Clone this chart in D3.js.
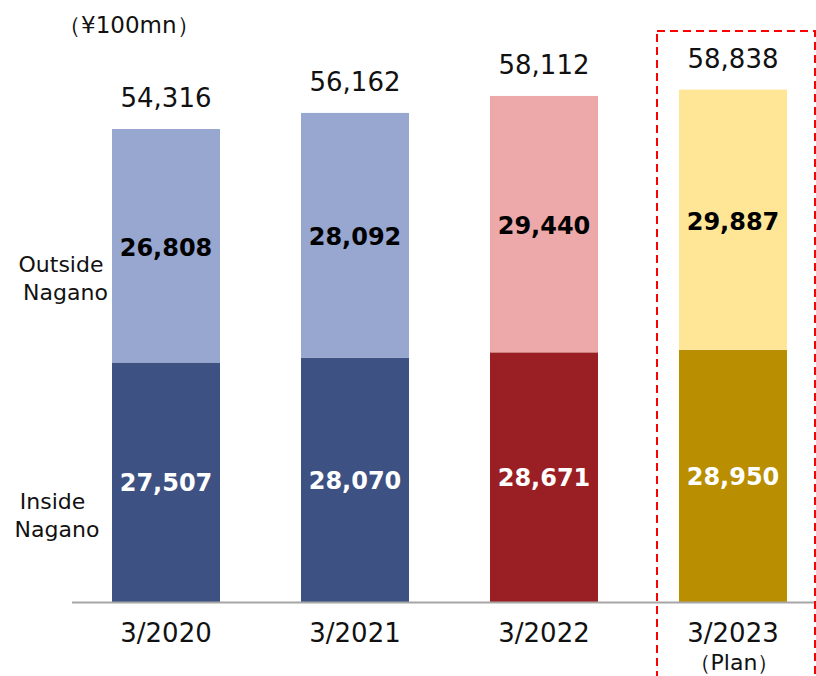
<!DOCTYPE html>
<html>
<head>
<meta charset="utf-8">
<script src="https://cdn.jsdelivr.net/npm/d3@7"></script>
<style>
  html, body { margin: 0; padding: 0; background: #fff; }
  svg { display: block; font-family: "DejaVu Sans", Verdana, sans-serif; }
</style>
</head>
<body>
<svg id="chart" width="816" height="676"></svg>
<script>
// Fiscal years (¥100mn)
const categories = ["3/2020", "3/2021", "3/2022", "3/2023"];
const subLabels = ["", "", "", "（Plan）"];
const insideNagano = [27507, 28070, 28671, 28950];
const outsideNagano = [26808, 28092, 29440, 29887];
const totals = [54316, 56162, 58112, 58838];

const insideColors = ["#3E5183", "#3E5183", "#9A1F24", "#B98E00"];
const outsideColors = ["#97A7D0", "#97A7D0", "#EDA8AA", "#FFE697"];
const insideTextColors = ["#fff", "#fff", "#fff", "#fff"];

const svg = d3.select("#chart");
const baseY = 602;

const x = d3.scaleBand()
  .domain(categories)
  .range([71.5, 827.5])
  .paddingInner(0.4286)
  .paddingOuter(0.2143);

const y = d3.scaleLinear()
  .domain([0, 54316])
  .range([baseY, 129]);

const fmt = d3.format(",");

// Stacked segments
const rows = categories.map((c, i) => ({
  c, i, inside: insideNagano[i], outside: outsideNagano[i], total: totals[i]
}));

const g = svg.append("g");

g.selectAll("rect.inside").data(rows).join("rect")
  .attr("class", "inside")
  .attr("x", d => x(d.c))
  .attr("width", x.bandwidth())
  .attr("y", d => y(d.inside))
  .attr("height", d => y(0) - y(d.inside))
  .attr("fill", d => insideColors[d.i]);

g.selectAll("rect.outside").data(rows).join("rect")
  .attr("class", "outside")
  .attr("x", d => x(d.c))
  .attr("width", x.bandwidth())
  .attr("y", d => y(d.inside + d.outside))
  .attr("height", d => y(d.inside) - y(d.inside + d.outside))
  .attr("fill", d => outsideColors[d.i]);

// Segment value labels
g.selectAll("text.inLbl").data(rows).join("text")
  .attr("class", "inLbl")
  .attr("x", d => x(d.c) + x.bandwidth() / 2)
  .attr("y", d => (y(0) + y(d.inside)) / 2 + 9)
  .attr("text-anchor", "middle")
  .attr("font-size", 24)
  .attr("font-weight", "bold")
  .attr("fill", d => insideTextColors[d.i])
  .text(d => fmt(d.inside));

g.selectAll("text.outLbl").data(rows).join("text")
  .attr("class", "outLbl")
  .attr("x", d => x(d.c) + x.bandwidth() / 2)
  .attr("y", d => (y(d.inside) + y(d.inside + d.outside)) / 2 + 10)
  .attr("text-anchor", "middle")
  .attr("font-size", 24)
  .attr("font-weight", "bold")
  .attr("fill", "#000")
  .text(d => fmt(d.outside));

// Totals above bars
g.selectAll("text.total").data(rows).join("text")
  .attr("class", "total")
  .attr("x", d => x(d.c) + x.bandwidth() / 2)
  .attr("y", d => y(d.total) - 22)
  .attr("text-anchor", "middle")
  .attr("font-size", 26)
  .attr("fill", "#111")
  .text(d => fmt(d.total));

// Baseline axis
const axis = svg.append("g")
  .attr("transform", `translate(0,${baseY})`)
  .call(d3.axisBottom(x).tickSize(0).tickPadding(0));
axis.select(".domain").remove();
axis.append("line")
  .attr("x1", 72).attr("x2", 816)
  .attr("y1", 0.5).attr("y2", 0.5)
  .attr("stroke", "#a6a6a6").attr("stroke-width", 2);
axis.selectAll(".tick text")
  .attr("font-family", "DejaVu Sans, sans-serif")
  .attr("font-size", 26)
  .attr("fill", "#111")
  .attr("dy", 0)
  .attr("y", 40);

// Sub-labels under categories
svg.selectAll("text.sub").data(categories).join("text")
  .attr("class", "sub")
  .attr("x", (d, i) => x(d) + x.bandwidth() / 2 + 1)
  .attr("y", 670)
  .attr("text-anchor", "middle")
  .attr("font-size", 22)
  .attr("fill", "#111")
  .text((d, i) => subLabels[i]);

// Unit label
svg.append("text")
  .attr("x", 58).attr("y", 33)
  .attr("font-size", 23)
  .attr("fill", "#111")
  .text("（¥100mn）");

// Series labels on the left
const seriesLabels = [
  { lines: ["Outside", "Nagano"], xs: [61, 65.5], y: 272 },
  { lines: ["Inside", "Nagano"], xs: [52.5, 57], y: 509 }
];
seriesLabels.forEach(s => {
  s.lines.forEach((ln, k) => {
    svg.append("text")
      .attr("x", s.xs[k])
      .attr("y", s.y + k * 28)
      .attr("text-anchor", "middle")
      .attr("font-size", 22)
      .attr("fill", "#111")
      .text(ln);
  });
});

// Dashed frame around the plan year
const planX = x("3/2023");
svg.append("rect")
  .attr("x", planX - 22)
  .attr("y", 31)
  .attr("width", x.bandwidth() + 50)
  .attr("height", 660)
  .attr("fill", "none")
  .attr("stroke", "#ff0000")
  .attr("stroke-width", 2)
  .attr("stroke-dasharray", "8,5");
</script>
</body>
</html>
